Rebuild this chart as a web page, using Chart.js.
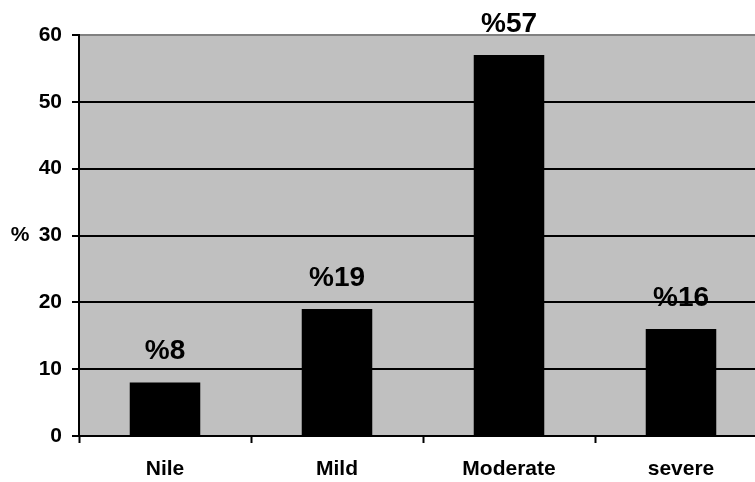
<!DOCTYPE html>
<html>
<head>
<meta charset="utf-8">
<script src="https://cdn.jsdelivr.net/npm/chart.js@4/dist/chart.umd.min.js"></script>
<style>
  html, body { margin: 0; padding: 0; background: #fff; overflow: hidden; }
  #wrap { width: 767px; height: 482px; }
</style>
</head>
<body>
<div id="wrap"><canvas id="chart" width="767" height="482"></canvas></div>
<script>
// Severity categories and their share in percent
const categories = ['Nile', 'Mild', 'Moderate', 'severe'];
const percentages = [8, 19, 57, 16];
const yTicks = [0, 10, 20, 30, 40, 50, 60];

const FONT = '"Liberation Sans", Arial, sans-serif';

// Grey plot background
const plotBackground = {
  id: 'plotBackground',
  beforeDraw(chart) {
    const { ctx, chartArea: a } = chart;
    ctx.save();
    ctx.fillStyle = '#c0c0c0';
    ctx.fillRect(a.left, a.top, a.right - a.left, a.bottom - a.top);
    ctx.restore();
  }
};

// "%NN" labels above each bar
const valueLabels = {
  id: 'valueLabels',
  afterDatasetsDraw(chart) {
    const { ctx } = chart;
    const meta = chart.getDatasetMeta(0);
    ctx.save();
    ctx.font = 'bold 28px ' + FONT;
    ctx.fillStyle = '#000';
    ctx.textAlign = 'center';
    ctx.textBaseline = 'middle';
    meta.data.forEach((bar, i) => {
      ctx.fillText('%' + percentages[i], bar.x, bar.y - 31);
    });
    ctx.restore();
  }
};

// Unrotated "%" unit label beside the value axis
const unitLabel = {
  id: 'unitLabel',
  afterDraw(chart) {
    const { ctx } = chart;
    const y = chart.scales.y.getPixelForValue(30);
    ctx.save();
    ctx.font = 'bold 21px ' + FONT;
    ctx.fillStyle = '#000';
    ctx.textAlign = 'center';
    ctx.textBaseline = 'middle';
    ctx.fillText('%', 20, y);
    ctx.restore();
  }
};

new Chart(document.getElementById('chart'), {
  type: 'bar',
  data: {
    labels: categories,
    datasets: [{
      data: percentages,
      backgroundColor: '#000',
      borderColor: '#000',
      borderWidth: 0,
      barPercentage: 0.41,
      categoryPercentage: 1
    }]
  },
  options: {
    responsive: false,
    devicePixelRatio: 1,
    animation: false,
    layout: { padding: { top: 35, right: 0, bottom: 0, left: 0 } },
    plugins: { legend: { display: false }, tooltip: { enabled: false } },
    scales: {
      x: {
        afterFit(scale) { scale.height = 46; },
        grid: {
          offset: true,
          drawOnChartArea: false,
          drawTicks: true,
          tickLength: 7,
          tickWidth: 2,
          tickColor: '#000'
        },
        border: { color: '#000', width: 2 },
        ticks: {
          color: '#000',
          padding: 14,
          maxRotation: 0,
          font: { family: FONT, size: 21, weight: 'bold' }
        }
      },
      y: {
        min: 0,
        max: 60,
        afterFit(scale) { scale.width = 79; },
        afterBuildTicks(scale) { scale.ticks = yTicks.map(v => ({ value: v })); },
        grid: {
          color: ctx => (ctx.tick && ctx.tick.value === 60 ? '#808080' : '#000'),
          lineWidth: 2,
          tickLength: 7,
          tickWidth: 2,
          tickColor: '#000'
        },
        border: { color: '#000', width: 2 },
        ticks: {
          color: '#000',
          padding: 10,
          font: { family: FONT, size: 21, weight: 'bold' }
        }
      }
    }
  },
  plugins: [plotBackground, valueLabels, unitLabel]
});
</script>
</body>
</html>
